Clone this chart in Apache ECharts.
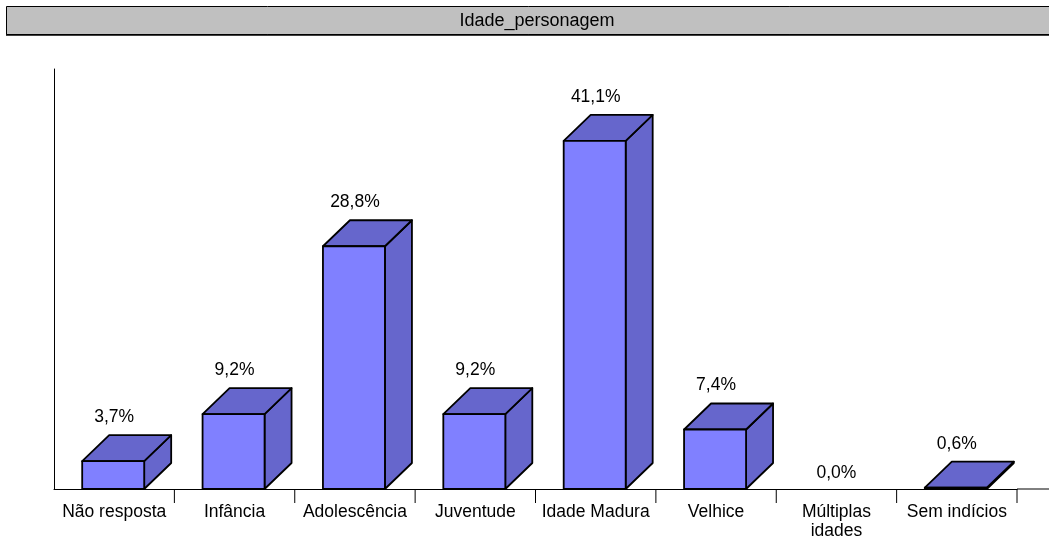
<!DOCTYPE html>
<html>
<head>
<meta charset="utf-8">
<script src="https://cdn.jsdelivr.net/npm/echarts@6/dist/echarts.min.js"></script>
<style>
html,body{margin:0;padding:0;background:#fff;}
#chart{width:1049px;height:541px;}
</style>
</head>
<body>
<div id="chart"></div>
<script>
const chartTitle = 'Idade_personagem';
const categories = ['Não resposta', 'Infância', 'Adolescência', 'Juventude', 'Idade Madura', 'Velhice', 'Múltiplas\nidades', 'Sem indícios'];
const values = [3.7, 9.2, 28.8, 9.2, 41.1, 7.4, 0.0, 0.6];

const FONT = '"Liberation Sans", Arial, sans-serif';
const Y_MIN = 0.45, Y_MAX = 49.5;
const DX = 27, DY = 26;

const chart = echarts.init(document.getElementById('chart'), null, {renderer: 'canvas'});

function fmt(v) { return v.toFixed(1).replace('.', ',') + '%'; }

const option = {
  animation: false,
  backgroundColor: '#ffffff',
  graphic: [
    {type: 'rect', shape: {x: 6.5, y: 6.5, width: 1100, height: 28},
     style: {fill: '#c0c0c0', stroke: '#000', lineWidth: 1}, z: 10},
    {type: 'line', shape: {x1: 6, y1: 35, x2: 1100, y2: 35},
     style: {stroke: '#000', lineWidth: 1.5}, z: 11},
    {type: 'text', x: 537, y: 21, z: 12,
     style: {text: chartTitle, fill: '#000', font: '18px ' + FONT, textAlign: 'center', textVerticalAlign: 'middle'}}
  ],
  grid: {left: 54, right: 32, top: 69, bottom: 52},
  xAxis: {
    type: 'category', data: categories, position: 'bottom',
    axisLine: {onZero: false, lineStyle: {color: '#000', width: 1}},
    axisTick: {show: false},
    axisLabel: {interval: 0, color: '#000', fontSize: 17.5, fontFamily: FONT, margin: 14, lineHeight: 19},
    splitLine: {show: false}
  },
  yAxis: {
    type: 'value', min: Y_MIN, max: Y_MAX,
    axisLine: {show: true, lineStyle: {color: '#000', width: 1}},
    axisTick: {show: false}, axisLabel: {show: false}, splitLine: {show: false}
  },
  series: [{
    type: 'custom',
    clip: false,
    data: values.map((v, i) => [i, v]),
    renderItem: function (params, api) {
      const i = api.value(0), v = api.value(1);
      const band = api.size([1, 0])[0];
      const c = api.coord([i, v]);
      const base = api.coord([i, Y_MIN])[1];
      const w = band * 0.515;
      const cx = c[0] - 1;
      const x0 = cx - w / 2, x1 = cx + w / 2;
      const children = [];
      const stroke = {stroke: '#000', lineWidth: 1.8, lineJoin: 'round'};
      let labelY = base - 16;
      if (v > Y_MIN) {
        const yt = c[1];
        children.push({type: 'polygon', shape: {points: [[x1, yt], [x1 + DX, yt - DY], [x1 + DX, base - DY], [x1, base]]},
          style: Object.assign({fill: '#6666cc'}, stroke)});
        children.push({type: 'polygon', shape: {points: [[x0, yt], [x0 + DX, yt - DY], [x1 + DX, yt - DY], [x1, yt]]},
          style: Object.assign({fill: '#6666cc'}, stroke)});
        children.push({type: 'rect', shape: {x: x0, y: yt, width: w, height: base - yt},
          style: Object.assign({fill: '#8080ff'}, stroke)});
        labelY = yt - 44;
      }
      children.push({type: 'text', style: {text: fmt(v), x: c[0], y: labelY, textAlign: 'center', textVerticalAlign: 'middle',
        fill: '#000', font: '17.5px ' + FONT}});
      const xr = c[0] + band / 2;
      children.push({type: 'line', shape: {x1: xr, y1: base, x2: xr, y2: base + 14}, style: {stroke: '#000', lineWidth: 1}});
      if (params.dataIndex === values.length - 1) {
        children.push({type: 'line', shape: {x1: xr, y1: base, x2: api.getWidth(), y2: base}, style: {stroke: '#000', lineWidth: 1}});
      }
      return {type: 'group', children: children};
    }
  }]
};
chart.setOption(option);
</script>
</body>
</html>
